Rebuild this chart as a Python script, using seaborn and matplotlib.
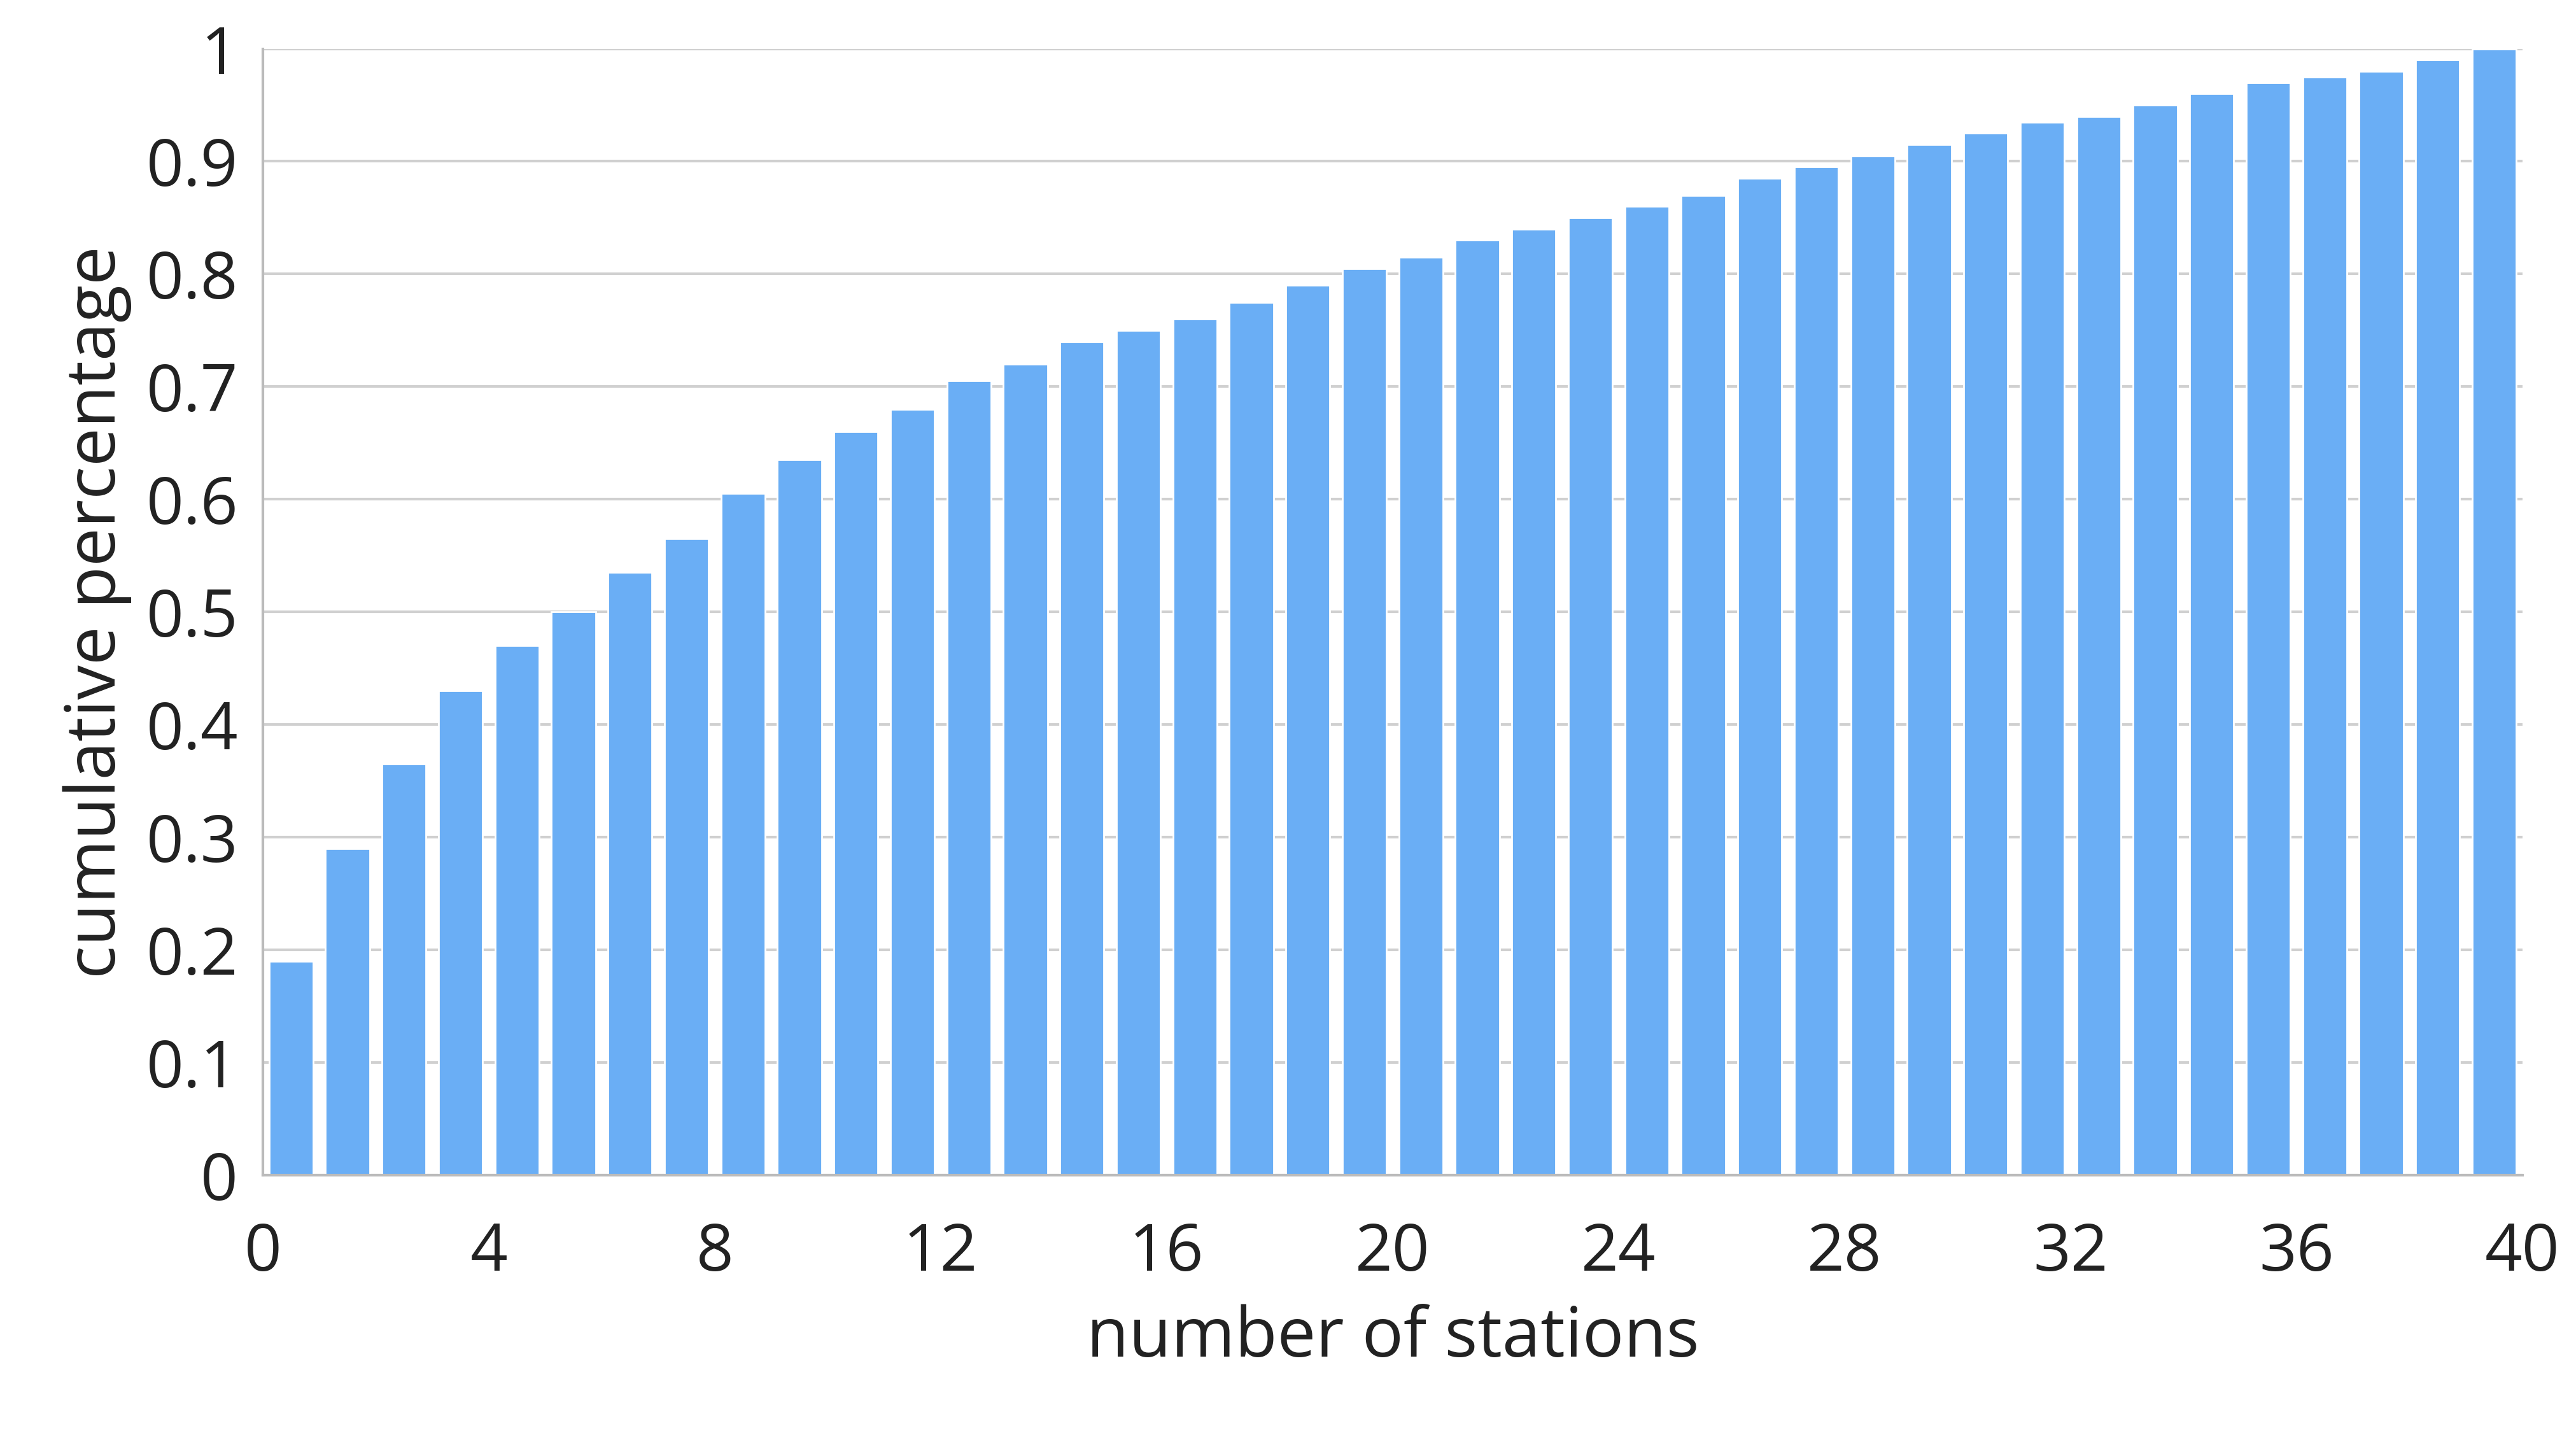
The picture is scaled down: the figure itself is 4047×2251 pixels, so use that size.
import matplotlib
matplotlib.use('Agg')
import matplotlib.pyplot as plt
import seaborn as sns
import numpy as np

# number of stations (bar centres) and cumulative share
estaciones = np.arange(40) + 0.5
acumulado = [0.19, 0.29, 0.365, 0.43, 0.47, 0.50, 0.535, 0.565, 0.605, 0.635,
             0.66, 0.68, 0.705, 0.72, 0.74, 0.75, 0.76, 0.775, 0.79, 0.805,
             0.815, 0.83, 0.84, 0.85, 0.86, 0.87, 0.885, 0.895, 0.905, 0.915,
             0.925, 0.935, 0.94, 0.95, 0.96, 0.97, 0.975, 0.98, 0.99, 1.0]

sns.set_style("white")
plt.rcParams['font.family'] = ['Open Sans', 'DejaVu Sans']

fig, ax = plt.subplots(figsize=(20.24, 11.255), dpi=200)
fig.subplots_adjust(left=0.102, right=0.979, top=0.966, bottom=0.18)

sns.barplot(x=estaciones, y=acumulado, native_scale=True, color="#6aaef5",
            saturation=1, width=0.78, ax=ax, zorder=2)

ax.set_xlim(0, 40)
ax.set_ylim(0, 1)
ax.set_xticks(range(0, 41, 4))
ax.set_yticks(np.arange(0, 1.01, 0.1))
ax.set_yticklabels(["0"] + [f"{v:.1f}" for v in np.arange(0.1, 1.0, 0.1)] + ["1"])
ax.yaxis.grid(True, color="#d0d0d0", linewidth=1.5, zorder=0)
ax.set_axisbelow(True)
for s in ["top", "right"]:
    ax.spines[s].set_visible(False)
ax.spines["left"].set_color("#bbbbbb")
ax.spines["bottom"].set_color("#bbbbbb")
ax.spines["left"].set_linewidth(1.5)
ax.spines["bottom"].set_linewidth(1.5)
ax.tick_params(axis='both', labelsize=37, colors="#222222", length=0, pad=14)
ax.tick_params(axis='x', length=8, color="#bbbbbb", direction='out', pad=18)
ax.set_xlabel("number of stations", fontsize=39, color="#222222", labelpad=10)
ax.set_ylabel("cumulative percentage", fontsize=39, color="#222222", labelpad=8)

plt.savefig("out.png")
plt.close()
